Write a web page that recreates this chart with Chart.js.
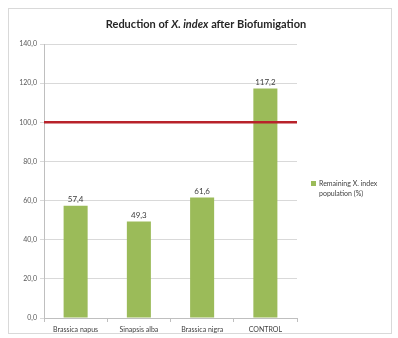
<!DOCTYPE html>
<html>
<head>
<meta charset="utf-8">
<script src="https://cdn.jsdelivr.net/npm/chart.js@4.4.1/dist/chart.umd.min.js"></script>
<style>
  body { margin: 0; background: #fff; }
  #box {
    position: absolute; left: 8px; top: 8px;
    width: 382px; height: 324px;
    border: 1px solid #d9d9d9;
  }
</style>
</head>
<body>
<div id="box"><canvas id="chart" width="382" height="324"></canvas></div>
<script>
// chart data
const categories = ["Brassica napus", "Sinapsis alba", "Brassica nigra", "CONTROL"];
const remaining = [57.4, 49.3, 61.6, 117.2];
const seriesName = ["Remaining X. index", "population (%)"];
const threshold = 100;
const yTicks = [0, 20, 40, 60, 80, 100, 120, 140];

const fmt = v => v.toFixed(1).replace(".", ",");
const FONT = "Lato, 'Open Sans', sans-serif";

// title with italic part
const titlePlugin = {
  id: "titleMix",
  afterDraw(chart) {
    const ctx = chart.ctx;
    const parts = [
      { t: "Reduction of ", f: "bold 11px " + FONT },
      { t: "X. index", f: "italic bold 11px " + FONT },
      { t: " after Biofumigation", f: "bold 11px " + FONT },
    ];
    let w = 0;
    parts.forEach(p => { ctx.font = p.f; w += ctx.measureText(p.t).width; });
    let x = 197 - w / 2;
    ctx.save();
    ctx.fillStyle = "#262626";
    ctx.textBaseline = "middle";
    parts.forEach(p => {
      ctx.font = p.f;
      ctx.fillText(p.t, x, 15);
      x += ctx.measureText(p.t).width;
    });
    ctx.restore();
  }
};

// red reference line + value labels
const extrasPlugin = {
  id: "extras",
  afterDatasetsDraw(chart) {
    const ctx = chart.ctx;
    const y = chart.scales.y;
    const area = chart.chartArea;
    ctx.save();
    // value labels
    ctx.font = "8px " + FONT;
    ctx.fillStyle = "#404040";
    ctx.textAlign = "center";
    ctx.textBaseline = "bottom";
    chart.getDatasetMeta(0).data.forEach((bar, i) => {
      ctx.fillText(fmt(remaining[i]), bar.x, bar.y - 2);
    });
    // threshold line
    const py = y.getPixelForValue(threshold);
    ctx.strokeStyle = "#b8222a";
    ctx.lineWidth = 2.5;
    ctx.beginPath();
    ctx.moveTo(area.left, py);
    ctx.lineTo(area.right, py);
    ctx.stroke();
    ctx.restore();
  },
  afterDraw(chart) {
    // legend
    const ctx = chart.ctx;
    ctx.save();
    ctx.fillStyle = "#9bbb59";
    ctx.fillRect(302, 172, 5, 5);
    ctx.font = "7px " + FONT;
    ctx.fillStyle = "#404040";
    ctx.textBaseline = "middle";
    ctx.fillText(seriesName[0], 310, 175);
    ctx.fillText(seriesName[1], 310, 185);
    ctx.restore();
  }
};

new Chart("chart", {
  type: "bar",
  data: {
    labels: categories,
    datasets: [{
      label: seriesName.join(" "),
      data: remaining,
      backgroundColor: "#9bbb59",
      barPercentage: 0.38,
      categoryPercentage: 1,
    }],
  },
  options: {
    responsive: false,
    animation: false,
    layout: { padding: { left: 4, right: 94, top: 35, bottom: 0 } },
    plugins: {
      legend: { display: false },
      tooltip: { enabled: false },
    },
    scales: {
      x: {
        grid: { drawOnChartArea: false, drawTicks: true, tickLength: 4, offset: true, color: "#bfbfbf" },
        border: { color: "#bfbfbf" },
        ticks: { font: { size: 7, family: FONT }, color: "#404040", padding: 4, maxRotation: 0 },
        afterFit(s) { s.height = 15; },
      },
      y: {
        min: 0,
        max: 140,
        afterBuildTicks(s) { s.ticks = yTicks.map(v => ({ value: v })); },
        grid: { color: "#d9d9d9", tickLength: 4 },
        border: { color: "#bfbfbf" },
        ticks: {
          font: { size: 7, family: FONT },
          color: "#595959",
          padding: 3,
          callback: v => fmt(v),
        },
        afterFit(s) { s.width = 31; },
      },
    },
  },
  plugins: [titlePlugin, extrasPlugin],
});
</script>
</body>
</html>
